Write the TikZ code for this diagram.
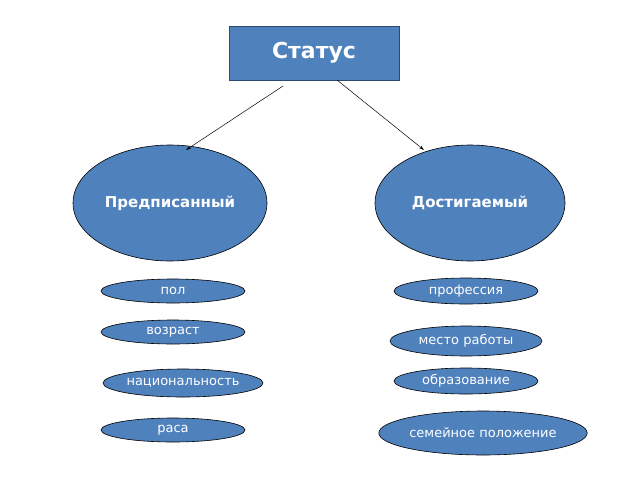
\documentclass[tikz,border=0pt]{standalone}
\usepackage{fontspec}
\setmainfont{DejaVu Sans}
\usetikzlibrary{shapes.geometric,arrows.meta}
\definecolor{bl}{HTML}{4F81BD}
\definecolor{bd}{HTML}{2C4A70}
\begin{document}
\begin{tikzpicture}[x=1pt,y=-1pt,
 big/.style={ellipse,fill=bl,draw=black,line width=0.6pt,minimum width=#1,inner sep=0pt,text=white,font=\bfseries\fontsize{15}{15}\selectfont},
 sm/.style={ellipse,fill=bl,draw=black,line width=0.6pt,inner sep=0pt,text=white,font=\fontsize{13}{13}\selectfont},
 arr/.style={-{Stealth[length=5pt,width=3pt]},line width=0.5pt}]
\useasboundingbox (0,0) rectangle (640,480);
\node[draw=bd,line width=0.8pt,fill=bl,minimum width=170pt,minimum height=54pt,text=white,font=\bfseries\fontsize{22}{22}\selectfont] (st) at (314,53) {Статус};
\node[big=194pt,minimum height=116pt] (l) at (170,203) {Предписанный};
\node[big=190pt,minimum height=116pt] (r) at (470,203) {Достигаемый};
\coordinate (a1) at (283,86); \coordinate (a2) at (337,80);
\draw[arr] (a1) -- (186,150);
\draw[arr] (a2) -- (424,150);
\node[sm,minimum width=144pt,minimum height=24pt] (p1) at (173,291) {пол};
\node[sm,minimum width=144pt,minimum height=24pt] (p2) at (173,332) {возраст};
\node[sm,minimum width=160pt,minimum height=28pt] (p3) at (183,383) {национальность};
\node[sm,minimum width=144pt,minimum height=24pt] (p4) at (173,430) {раса};
\node[sm,minimum width=144pt,minimum height=26pt] (q1) at (466,291) {профессия};
\node[sm,minimum width=152pt,minimum height=30pt] (q2) at (466,341) {место работы};
\node[sm,minimum width=144pt,minimum height=26pt] (q3) at (466,381) {образование};
\node[sm,minimum width=206pt,minimum height=44pt] (q4) at (483,433) {семейное положение};
\end{tikzpicture}
\end{document}
